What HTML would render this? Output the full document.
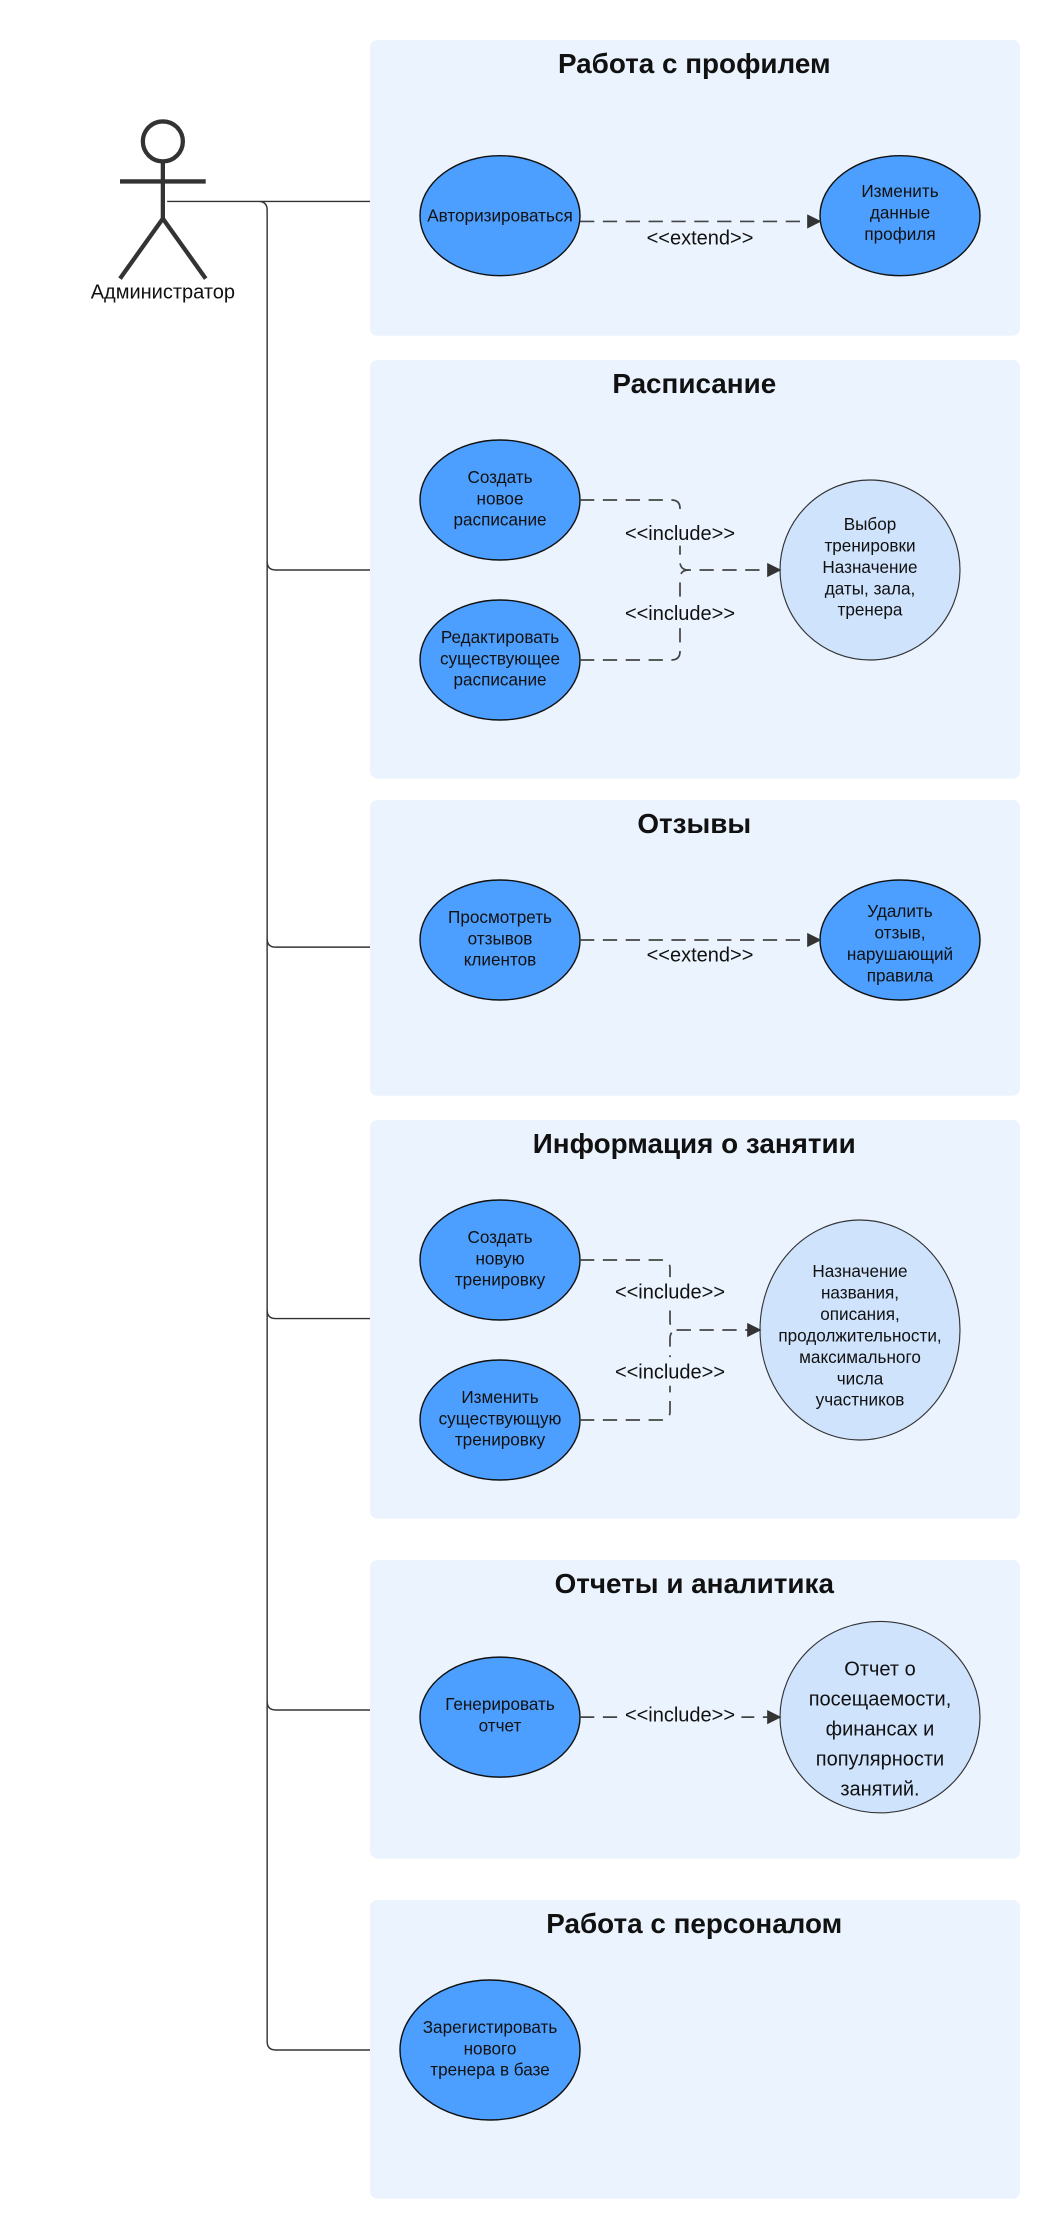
<!DOCTYPE html>
<html><head><meta charset="utf-8"><style>
html,body{margin:0;padding:0;background:#fff;}
svg{display:block;}
text{font-family:"Liberation Sans","Noto Sans CJK SC",sans-serif;fill:#111;}
.t{font-size:19.5px;font-weight:bold;text-anchor:middle;}
.u{font-size:12px;text-anchor:middle;}
.l{font-size:14px;text-anchor:middle;}
.c{fill:#ebf4fe;}
.e{fill:#4d9fff;stroke:#111;stroke-width:1;}
.e2{fill:#cfe3fd;stroke:#333;stroke-width:0.8;}
.d{fill:none;stroke:#444;stroke-width:1.2;stroke-dasharray:10,6;}
.s{fill:none;stroke:#333;stroke-width:1;}
</style></head><body>
<svg width="1060" height="2240" viewBox="0 0 742 1568" xmlns="http://www.w3.org/2000/svg">
<defs><marker id="a" markerWidth="10" markerHeight="10" refX="9" refY="5" orient="auto" markerUnits="userSpaceOnUse"><path d="M0,0 L10,5 L0,10 z" fill="#333"/></marker></defs>
<rect class="c" x="259" y="28" width="455" height="207" rx="5"/>
<rect class="c" x="259" y="252" width="455" height="293" rx="5"/>
<rect class="c" x="259" y="560" width="455" height="207" rx="5"/>
<rect class="c" x="259" y="784" width="455" height="279" rx="5"/>
<rect class="c" x="259" y="1092" width="455" height="209" rx="5"/>
<rect class="c" x="259" y="1330" width="455" height="209" rx="5"/>
<text class="t" x="486" y="51">Работа с профилем</text>
<text class="t" x="486" y="275">Расписание</text>
<text class="t" x="486" y="583">Отзывы</text>
<text class="t" x="486" y="807">Информация о занятии</text>
<text class="t" x="486" y="1115">Отчеты и аналитика</text>
<text class="t" x="486" y="1353">Работа с персоналом</text>
<!-- actor -->
<g stroke="#333" stroke-width="3" fill="none">
<circle cx="114" cy="99" r="14"/>
<line x1="114" y1="113" x2="114" y2="153"/>
<line x1="84" y1="127" x2="144" y2="127"/>
<line x1="114" y1="153" x2="84" y2="195"/>
<line x1="114" y1="153" x2="144" y2="195"/>
</g>
<text class="l" x="114" y="209">Администратор</text>
<path class="s" d="M117,141 H259 M117,141 H181 Q187,141 187,147 V1429 Q187,1435 193,1435 H259"/>
<path class="s" d="M187,393 Q187,399 193,399 H259 M187,657 Q187,663 193,663 H259 M187,917 Q187,923 193,923 H259 M187,1191 Q187,1197 193,1197 H259"/>
<!-- section 1 -->
<ellipse class="e" cx="350" cy="151" rx="56" ry="42"/>
<text class="u" x="350" y="155">Авторизироваться</text>
<ellipse class="e" cx="630" cy="151" rx="56" ry="42"/>
<text class="u"><tspan x="630" y="138">Изменить</tspan><tspan x="630" y="153">данные</tspan><tspan x="630" y="168">профиля</tspan></text>
<line class="d" x1="406" y1="155" x2="574" y2="155" marker-end="url(#a)"/>
<text class="l" x="490" y="171">&lt;&lt;extend&gt;&gt;</text>
<!-- section 2 -->
<ellipse class="e" cx="350" cy="350" rx="56" ry="42"/>
<text class="u"><tspan x="350" y="338">Создать</tspan><tspan x="350" y="353">новое</tspan><tspan x="350" y="368">расписание</tspan></text>
<ellipse class="e" cx="350" cy="462" rx="56" ry="42"/>
<text class="u"><tspan x="350" y="450">Редактировать</tspan><tspan x="350" y="465">существующее</tspan><tspan x="350" y="480">расписание</tspan></text>
<ellipse class="e2" cx="609" cy="399" rx="63" ry="63"/>
<text class="u"><tspan x="609" y="371">Выбор</tspan><tspan x="609" y="386">тренировки</tspan><tspan x="609" y="401">Назначение</tspan><tspan x="609" y="416">даты, зала,</tspan><tspan x="609" y="431">тренера</tspan></text>
<path class="d" d="M406,350 H470 Q476,350 476,356 V393 Q476,399 482,399 H546" marker-end="url(#a)"/>
<path class="d" d="M406,462 H470 Q476,462 476,456 V405 Q476,399 482,399"/>
<rect x="430" y="362" width="92" height="20" class="c"/>
<rect x="430" y="418" width="92" height="20" class="c"/>
<text class="l" x="476" y="378">&lt;&lt;include&gt;&gt;</text>
<text class="l" x="476" y="434">&lt;&lt;include&gt;&gt;</text>
<!-- section 3 -->
<ellipse class="e" cx="350" cy="658" rx="56" ry="42"/>
<text class="u"><tspan x="350" y="646">Просмотреть</tspan><tspan x="350" y="661">отзывов</tspan><tspan x="350" y="676">клиентов</tspan></text>
<ellipse class="e" cx="630" cy="658" rx="56" ry="42"/>
<text class="u"><tspan x="630" y="642">Удалить</tspan><tspan x="630" y="657">отзыв,</tspan><tspan x="630" y="672">нарушающий</tspan><tspan x="630" y="687">правила</tspan></text>
<line class="d" x1="406" y1="658" x2="574" y2="658" marker-end="url(#a)"/>
<text class="l" x="490" y="673">&lt;&lt;extend&gt;&gt;</text>
<!-- section 4 -->
<ellipse class="e" cx="350" cy="882" rx="56" ry="42"/>
<text class="u"><tspan x="350" y="870">Создать</tspan><tspan x="350" y="885">новую</tspan><tspan x="350" y="900">тренировку</tspan></text>
<ellipse class="e" cx="350" cy="994" rx="56" ry="42"/>
<text class="u"><tspan x="350" y="982">Изменить</tspan><tspan x="350" y="997">существующую</tspan><tspan x="350" y="1012">тренировку</tspan></text>
<ellipse class="e2" cx="602" cy="931" rx="70" ry="77"/>
<text class="u"><tspan x="602" y="894">Назначение</tspan><tspan x="602" y="909">названия,</tspan><tspan x="602" y="924">описания,</tspan><tspan x="602" y="939">продолжительности,</tspan><tspan x="602" y="954">максимального</tspan><tspan x="602" y="969">числа</tspan><tspan x="602" y="984">участников</tspan></text>
<path class="d" d="M406,882 H463 Q469,882 469,888 V925 Q469,931 475,931 H532" marker-end="url(#a)"/>
<path class="d" d="M406,994 H463 Q469,994 469,988 V937 Q469,931 475,931"/>
<rect x="423" y="894" width="92" height="20" class="c"/>
<rect x="423" y="950" width="92" height="20" class="c"/>
<text class="l" x="469" y="909">&lt;&lt;include&gt;&gt;</text>
<text class="l" x="469" y="965">&lt;&lt;include&gt;&gt;</text>
<!-- section 5 -->
<ellipse class="e" cx="350" cy="1202" rx="56" ry="42"/>
<text class="u"><tspan x="350" y="1197">Генерировать</tspan><tspan x="350" y="1212">отчет</tspan></text>
<ellipse class="e2" cx="616" cy="1202" rx="70" ry="67"/>
<text style="font-size:14px;text-anchor:middle"><tspan x="616" y="1173">Отчет о</tspan><tspan x="616" y="1194">посещаемости,</tspan><tspan x="616" y="1215">финансах и</tspan><tspan x="616" y="1236">популярности</tspan><tspan x="616" y="1257">занятий.</tspan></text>
<line class="d" x1="406" y1="1202" x2="546" y2="1202" marker-end="url(#a)"/>
<rect x="433" y="1191" width="86" height="18" class="c"/>
<text class="l" x="476" y="1205">&lt;&lt;include&gt;&gt;</text>
<!-- section 6 -->
<ellipse class="e" cx="343" cy="1435" rx="63" ry="49"/>
<text class="u"><tspan x="343" y="1423">Зарегистировать</tspan><tspan x="343" y="1438">нового</tspan><tspan x="343" y="1453">тренера в базе</tspan></text>
</svg>
</body></html>
